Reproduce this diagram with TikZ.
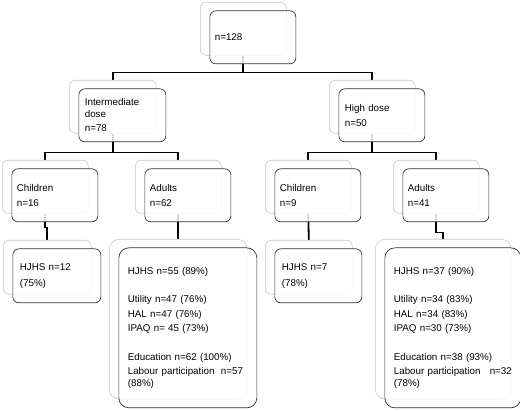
\documentclass[tikz,border=0pt]{standalone}
\usepackage{fontspec}
\setmainfont{Liberation Sans}
\usetikzlibrary{backgrounds}

\tikzset{
  backbox/.style={draw=black!22, line width=.6pt, fill=white, rounded corners=6pt, inner sep=0pt, anchor=north west},
  frontbox/.style={draw=black!80, line width=.7pt, fill=white, fill opacity=.85, text opacity=1, rounded corners=6pt,
    anchor=north west, align=left, inner ysep=0pt, font=\fontsize{9.8}{11.5}\selectfont},
  link/.style={line width=1.8pt, black},
}

% #2 name, #3/#4 top left of the shadow box, #5/#6 size, #7 text padding
\newcommand{\stack}[8][]{%
  \pgfmathsetmacro\tw{#5-2*#7}%
  \node[backbox,#1,minimum width=#5pt,minimum height=#6pt] (#2) at (#3,#4) {};
  \node[frontbox,#1,minimum width=#5pt,minimum height=#6pt,inner xsep=#7pt,text width=\tw pt]
    (#2f) at ([shift={(9.5pt,-8.5pt)}]#2.north west) {#8};
}

\begin{document}
\begin{tikzpicture}[x=1pt,y=-1pt]
\useasboundingbox (0,0) rectangle (520,411);

\stack{all}{200}{2}{86}{53}{5}{n=128}
\stack{inter}{69}{80}{87}{53}{6}{Intermediate\\ dose\\[3pt] n=78}
\stack{high}{329}{80}{86}{53}{6}{High dose\\[3pt] n=50}

\stack{ich}{2}{160}{86}{53}{5}{Children\\[3pt] n=16}
\stack{iad}{135}{160}{86}{53}{5}{Adults\\[3pt] n=62}
\stack{hch}{265}{160}{86}{53}{5}{Children\\[3pt] n=9}
\stack{had}{393}{160}{86}{53}{5}{Adults\\[3pt] n=41}

\stack{ichr}{3}{240}{88}{54}{7}{HJHS n=12\\[4pt] (75\%)}
\stack[rounded corners=10pt]{iadr}{109}{239}{138}{160}{9}{HJHS n=55 (89\%)\\[17pt]
  Utility n=47 (76\%)\\[3pt] HAL n=47 (76\%)\\[3pt] IPAQ n= 45 (73\%)\\[17pt]
  Education n=62 (100\%)\\[3pt] Labour participation\ \ n=57\\ (88\%)}
\stack{hchr}{265}{240}{87}{54}{7}{HJHS n=7\\[4pt] (78\%)}
\stack[rounded corners=10pt]{hadr}{375}{239}{136}{160}{9}{HJHS n=37 (90\%)\\[17pt]
  Utility n=34 (83\%)\\[3pt] HAL n=34 (83\%)\\[3pt] IPAQ n=30 (73\%)\\[17pt]
  Education n=38 (93\%)\\[3pt] Labour participation\hfill n=32\\ (78\%)}

\begin{scope}[on background layer]
\draw[link] (all.south) -- ++(0,-17pt) -| (inter.north);
\draw[link] (all.south) -- ++(0,-17pt) -| (high.north);
\draw[link] (inter.south) -- ++(0,-19pt) -| (ich.north);
\draw[link] (inter.south) -- ++(0,-19pt) -| (iad.north);
\draw[link] (high.south) -- ++(0,-19pt) -| (hch.north);
\draw[link] (high.south) -- ++(0,-19pt) -| (had.north);
\draw[link] (ich.south) -- ++(0,-14pt) -| (ichr.north);
\draw[link] (iad.south) -- (iadr.north);
\draw[link] (hch.south) -- (hchr.north);
\draw[link] (had.south) -- ++(0,-19pt) -| (hadr.north);
\end{scope}
\end{tikzpicture}
\end{document}
